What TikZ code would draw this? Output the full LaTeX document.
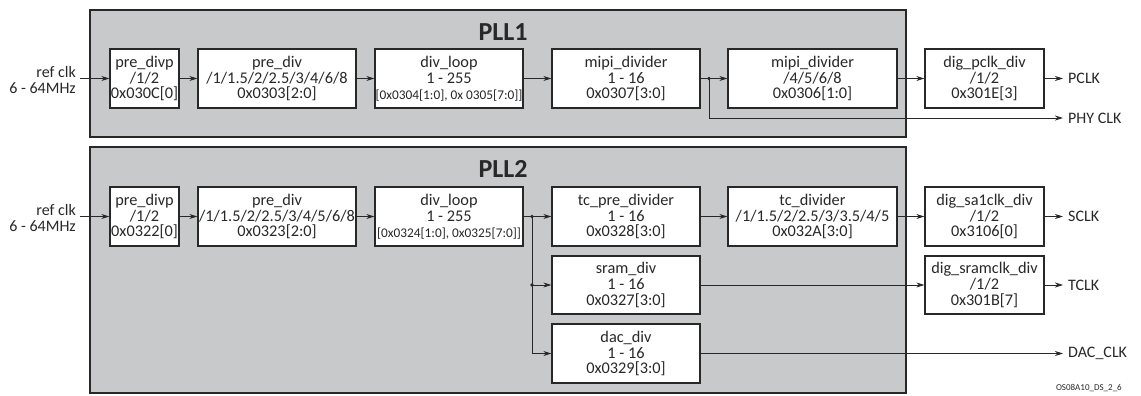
\documentclass[tikz,border=0pt]{standalone}
\usepackage{fontspec}
\setmainfont{Carlito}
\usetikzlibrary{arrows.meta}
\definecolor{pllgray}{RGB}{200,201,203}
\definecolor{ink}{RGB}{40,40,40}
\begin{document}
\begin{tikzpicture}[x=1pt,y=-1pt,
  pll/.style={draw=ink, line width=1.6pt, fill=pllgray},
  blk/.style={draw=ink, line width=1.3pt, fill=white, align=center, text=ink,
    font=\fontsize{16.3}{15.8}\selectfont, inner sep=0pt},
  wire/.style={line width=0.8pt, draw=ink},
  arr/.style={wire, -{Stealth[length=8pt,width=5pt,inset=2.5pt]}},
  jdot/.style={circle, fill=ink, inner sep=0pt, minimum size=3.8pt},
  lbl/.style={font=\fontsize{16}{16}\selectfont, text=ink, anchor=west, inner sep=0pt},
  ttl/.style={font=\bfseries\fontsize{26}{26}\selectfont, text=ink}
]
\useasboundingbox (0,0) rectangle (1141,396);
% PLL frames
\draw[pll] (90,10) rectangle (906,137);
\draw[pll] (90,147) rectangle (906,393);
\node[ttl] (t1) at (503,32) {PLL1};
\node[ttl] (t2) at (503,169) {PLL2};

% Row 1
\node[blk, minimum width=69pt, minimum height=59pt] (pdp1) at (144.5,78.5) {pre\_divp\\/1/2\\0x030C[0]};
\node[blk, minimum width=158pt, minimum height=59pt] (pd1) at (277,78.5) {pre\_div\\/1/1.5/2/2.5/3/4/6/8\\0x0303[2:0]};
\node[blk, minimum width=148pt, minimum height=59pt] (dl1) at (449,78.5) {div\_loop\\1 - 255\\{\fontsize{13.3}{13}\selectfont [0x0304[1:0], 0x 0305[7:0]]}};
\node[blk, minimum width=148pt, minimum height=59pt] (mp1) at (626,78.5) {mipi\_divider\\1 - 16\\0x0307[3:0]};
\node[blk, minimum width=169pt, minimum height=59pt] (mp2) at (812.5,78.5) {mipi\_divider\\/4/5/6/8\\0x0306[1:0]};
\node[blk, minimum width=119pt, minimum height=59pt] (pc) at (984.5,78.5) {dig\_pclk\_div\\/1/2\\0x301E[3]};

\node[lbl, anchor=east, align=right] (rc1) at (76,80) {ref clk\\6 - 64MHz};
\coordinate (r1) at (80,78.5);
\draw[arr] (r1) -- (pdp1.west);
\draw[arr] (pdp1.east) -- (pd1.west);
\draw[arr] (pd1.east) -- (dl1.west);
\draw[arr] (dl1.east) -- (mp1.west);
\node[jdot] (j1) at (709,78.5) {};
\draw[wire] (mp1.east) -- (j1.center);
\draw[arr] (j1.center) -- (mp2.west);
\draw[arr] (mp2.east) -- (pc.west);
\coordinate (pclkend) at (1063,78.5);
\draw[arr] (pc.east) -- (pclkend);
\node[lbl] (pclk) at (1068,78.5) {PCLK};
\coordinate (phyend) at (1063,118);
\draw[arr] (j1.center) |- (phyend);
\node[lbl] (phy) at (1068,118) {PHY CLK};

% Row 2
\node[blk, minimum width=69pt, minimum height=59pt] (pdp2) at (144.5,216.5) {pre\_divp\\/1/2\\0x0322[0]};
\node[blk, minimum width=158pt, minimum height=59pt] (pd2) at (277,216.5) {pre\_div\\/1/1.5/2/2.5/3/4/5/6/8\\0x0323[2:0]};
\node[blk, minimum width=148pt, minimum height=59pt] (dl2) at (449,216.5) {div\_loop\\1 - 255\\{\fontsize{13.3}{13}\selectfont [0x0324[1:0], 0x0325[7:0]]}};
\node[blk, minimum width=148pt, minimum height=59pt] (tcp) at (626,216.5) {tc\_pre\_divider\\1 - 16\\0x0328[3:0]};
\node[blk, minimum width=169pt, minimum height=59pt] (tcd) at (812.5,216.5) {tc\_divider\\/1/1.5/2/2.5/3/3.5/4/5\\0x032A[3:0]};
\node[blk, minimum width=119pt, minimum height=59pt] (sa) at (984.5,216.5) {dig\_sa1clk\_div\\/1/2\\0x3106[0]};
\node[blk, minimum width=148pt, minimum height=58pt] (sr) at (626,285) {sram\_div\\1 - 16\\0x0327[3:0]};
\node[blk, minimum width=148pt, minimum height=59pt] (dac) at (626,353.5) {dac\_div\\1 - 16\\0x0329[3:0]};
\node[blk, minimum width=119pt, minimum height=58pt] (sc) at (984.5,285) {dig\_sramclk\_div\\/1/2\\0x301B[7]};

\node[lbl, anchor=east, align=right] (rc2) at (76,218) {ref clk\\6 - 64MHz};
\coordinate (r2) at (80,216.5);
\draw[arr] (r2) -- (pdp2.west);
\draw[arr] (pdp2.east) -- (pd2.west);
\draw[arr] (pd2.east) -- (dl2.west);
\node[jdot] (j2) at (532,216.5) {};
\node[jdot] (j3) at (532,285) {};
\draw[wire] (dl2.east) -- (j2.center);
\draw[arr] (j2.center) -- (tcp.west);
\draw[arr] (j3.center) -- (sr.west);
\draw[arr] (j2.center) |- (dac.west);
\draw[arr] (tcp.east) -- (tcd.west);
\draw[arr] (tcd.east) -- (sa.west);
\draw[arr] (sr.east) -- (sc.west);
\coordinate (sclkend) at (1063,216.5);
\coordinate (tclkend) at (1063,285);
\coordinate (dacend) at (1063,353.5);
\draw[arr] (sa.east) -- (sclkend);
\draw[arr] (sc.east) -- (tclkend);
\draw[arr] (dac.east) -- (dacend);
\node[lbl] (sclk) at (1068,216.5) {SCLK};
\node[lbl] (tclk) at (1068,285) {TCLK};
\node[lbl] (dclk) at (1068,353.5) {DAC\_CLK};

\node[font=\fontsize{9}{9}\selectfont, text=ink, anchor=east, inner sep=0pt] (fig) at (1122,388) {OS08A10\_DS\_2\_6};
\end{tikzpicture}
\end{document}
